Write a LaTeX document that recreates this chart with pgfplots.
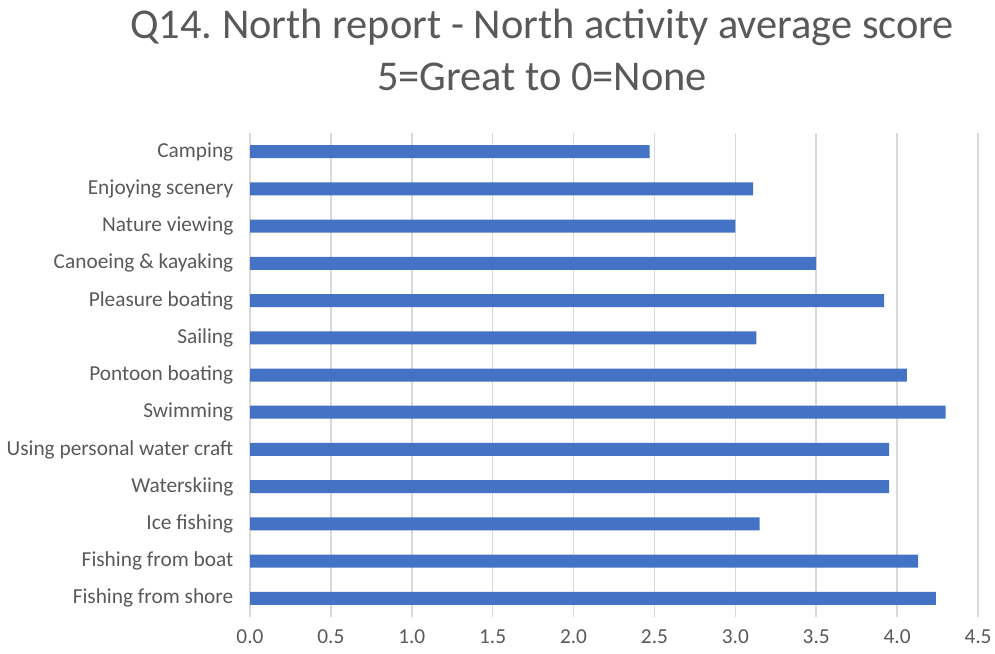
\documentclass[border=0pt]{standalone}
\usepackage{pgfplots}
\pgfplotsset{compat=1.18}
\usepackage{fontspec}
\setmainfont{Carlito}
\frenchspacing
\definecolor{barblue}{HTML}{4472C4}
\definecolor{txtgray}{HTML}{595959}
\definecolor{gridgray}{HTML}{D9D9D9}
\begin{document}
\begin{tikzpicture}
% positions in px of the 995x653 reference, 1px = 0.75pt
% title
\node[anchor=base, text=txtgray, font=\fontsize{31.8}{38}\selectfont, inner sep=0] at (406.5pt,460.5pt) {Q14. North report - North activity average score};
\node[anchor=base, text=txtgray, font=\fontsize{31.8}{38}\selectfont, inner sep=0] at (406.5pt,421.5pt) {5=Great to 0=None};
\begin{axis}[
    at={(187.5pt,27pt)}, anchor=south west,
    width=546pt, height=363pt, scale only axis,
    xbar, bar width=9.75pt,
    xmin=0, xmax=4.5, xtick={0,0.5,...,4.5},
    ymin=-0.5, ymax=12.5, y dir=reverse,
    ytick={0,...,12},
    yticklabels={Camping, Enjoying scenery, Nature viewing, Canoeing \& kayaking, Pleasure boating, Sailing, Pontoon boating, Swimming, Using personal water craft, Waterskiing, Ice fishing, Fishing from boat, Fishing from shore},
    axis x line*=bottom, axis y line*=left,
    x axis line style={draw=none}, y axis line style={draw=gridgray, line width=1.1pt},
    major tick length=0pt,
    xmajorgrids, grid style={gridgray, line width=1.1pt},
    /pgf/number format/assume math mode=true,
    xticklabel style={/pgf/number format/fixed, /pgf/number format/fixed zerofill, /pgf/number format/precision=1},
    tick label style={font=\fontsize{16}{18}\selectfont, text=txtgray},
    yticklabel style={xshift=-9pt},
    xticklabel style={yshift=-6pt},
]
\addplot[fill=barblue, draw=none] coordinates {
(2.47,0) (3.11,1) (3.00,2) (3.50,3) (3.92,4) (3.13,5) (4.06,6)
(4.30,7) (3.95,8) (3.95,9) (3.15,10) (4.13,11) (4.24,12)};
\end{axis}
\pgfresetboundingbox
\useasboundingbox (0pt,0pt) rectangle (746.25pt,489.75pt);
\end{tikzpicture}
\end{document}
